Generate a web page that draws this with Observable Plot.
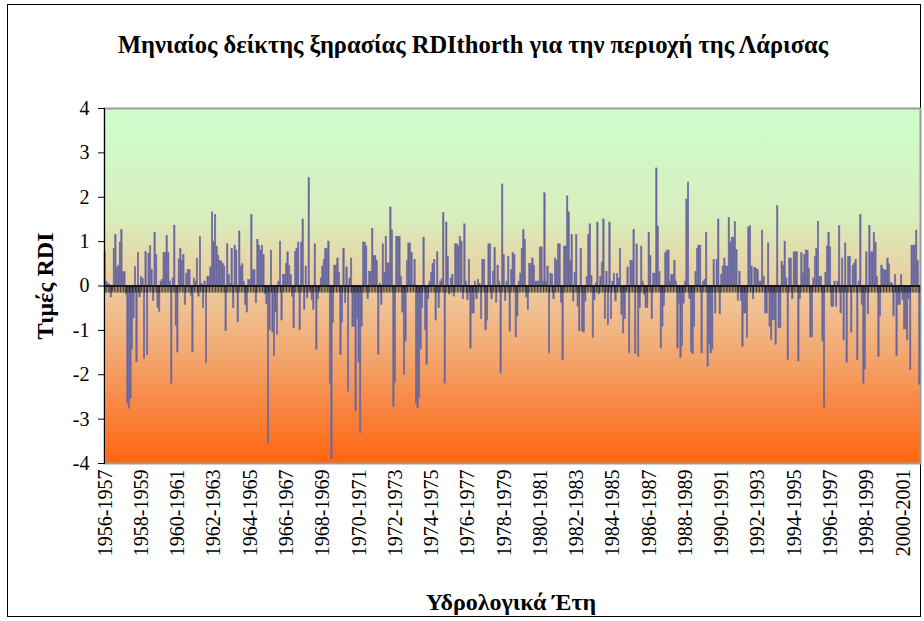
<!DOCTYPE html>
<html>
<head>
<meta charset="utf-8">
<script src="https://cdn.jsdelivr.net/npm/d3@7"></script>
<script src="https://cdn.jsdelivr.net/npm/@observablehq/plot@0.6"></script>
<style>
  html, body { margin: 0; padding: 0; background: #fff; }
  #wrap { position: relative; width: 924px; height: 621px; overflow: hidden; }
  #border { position: absolute; left: 7px; top: 4px; width: 914px; height: 613px; border: 1px solid #000; box-sizing: border-box; }
  .lbl { position: absolute; font-family: "Liberation Serif", "Times New Roman", serif; font-weight: bold; font-size: 24px; color: #000; white-space: nowrap; line-height: 1; }
  #title { left: 473px; top: 45px; transform: translate(-50%, -50%); font-size: 24.5px; }
  #ylabel { left: 45px; top: 286px; transform: translate(-50%, -50%) rotate(-90deg); }
  #xlabel { left: 511px; top: 602px; transform: translate(-50%, -50%); }
  #chart { position: absolute; left: 0; top: 0; }
</style>
</head>
<body>
<div id="wrap">
  <div id="border"></div>
  <div id="chart"></div>
  <div id="title" class="lbl">Μηνιαίος δείκτης ξηρασίας RDIthorth για την περιοχή της Λάρισας</div>
  <div id="ylabel" class="lbl">Τιμές RDI</div>
  <div id="xlabel" class="lbl">Υδρολογικά Έτη</div>
</div>
<script>
// Monthly RDI values, hydrological years (Oct–Sep), 60 months per array
const rdi1956_1961 = [0.77,0.1,0.05,0.03,-0.26,-0.1,0.83,1.15,0.4,0.45,0.98,1.26,0.3,0.32,-0.2,-2.65,-2.77,-2.55,-1.43,-0.73,0.43,-1.72,0.74,-0.26,0.2,0.16,-1.64,0.77,-1.56,0.73,0.9,0.36,-0.34,1.2,0.7,-0.5,-0.58,0.1,0.14,0.74,0.74,1.13,0.74,0.1,-2.2,0.17,1.36,-0.9,-1.5,0.6,0.83,0.56,0.7,-0.43,0.28,0.36,0.36,-0.23,-1.5,0.17];
const rdi1961_1966 = [0.1,0.62,-0.24,1.1,0.05,-0.5,0.1,-1.74,0.2,0.2,0.42,1.66,1.0,1.6,0.89,0.68,0.56,0.55,0.5,0.44,-1.02,0.94,0.25,0.05,0.83,-0.5,0.91,0.8,-0.82,1.23,0.44,0.49,0.1,-0.43,-0.6,0.13,0.13,1.6,0.35,0.36,-0.39,1.04,0.91,0.8,0.91,0.7,-0.19,-0.4,-3.55,-1.0,0.8,-1.05,-1.58,-0.6,-1.1,0.1,1.0,-0.78,0.25,0.25];
const rdi1966_1971 = [0.5,0.76,0.46,0.25,-0.24,-0.95,0.77,0.83,0.98,-1.0,0.98,1.5,-0.54,0.44,-0.28,2.43,-0.1,-0.32,-0.54,0.94,-1.44,-0.3,-0.12,0.17,0.44,0.59,0.83,0.83,1.0,-2.2,-3.9,-0.84,0.46,0.46,0.62,0.3,-1.56,-0.83,0.83,-0.39,0.42,-2.38,0.17,0.62,-0.92,-0.92,-2.83,-0.75,-1.74,-3.32,-0.92,0.98,0.98,0.89,-0.3,0.32,0.32,1.29,0.68,0.68];
const rdi1971_1976 = [0.56,-1.56,0.05,-0.43,0.94,0.3,1.11,0.51,0.51,1.77,1.25,-2.72,-2.18,1.11,1.11,1.1,0.2,-0.6,-2.0,-1.25,0.56,0.96,0.96,0.74,0.02,0.59,-2.65,-2.76,-2.53,-1.43,-0.5,1.09,-1.0,-1.78,-0.3,0.1,0.3,0.5,0.59,-0.78,0.76,-0.5,0.1,0.15,1.64,-2.2,1.43,0.66,-0.19,0.17,0.25,-0.24,0.94,0.94,0.89,1.11,1.0,-0.3,1.39,0.1];
const rdi1976_1981 = [-0.32,0.59,-1.41,-0.62,-0.62,0.1,-0.3,0.14,0.05,-0.75,0.59,0.59,-1.0,-0.78,0.94,0.94,-0.3,0.32,0.86,-0.38,0.46,0.1,-1.97,2.29,0.7,-0.34,0.1,0.66,-1.03,0.36,0.74,0.7,-1.16,-0.69,0.1,0.28,0.83,1.26,1.04,-0.26,-0.54,0.5,0.5,0.62,0.46,0.1,0.1,0.1,0.87,0.87,0.1,2.09,0.1,0.44,-1.52,0.28,0.26,-0.3,0.62,0.56];
const rdi1981_1986 = [0.94,0.94,-0.38,-1.67,0.89,0.89,2.02,1.66,0.57,1.15,-0.35,0.3,1.15,-0.47,-1.02,0.83,-1.03,-1.05,-0.35,0.2,1.15,1.39,0.23,-1.17,-0.32,0.06,1.43,-0.19,0.2,0.53,1.5,-0.75,0.32,-0.88,1.43,-0.75,0.1,0.28,-0.35,0.27,0.17,0.83,-0.65,-1.07,-0.75,-0.1,0.42,-1.52,0.56,0.56,1.26,-1.53,0.94,-1.6,-0.5,0.89,0.1,-0.2,-0.5,-0.5];
const rdi1986_1991 = [1.19,0.68,-0.75,0.28,0.28,2.65,1.34,0.32,-1.41,-0.92,-0.45,0.74,0.8,0.8,0.1,0.25,0.25,0.56,0.1,-1.41,-0.4,-1.62,-1.35,-0.4,0.1,1.95,2.33,-0.3,-1.48,-1.54,-0.92,0.32,0.83,0.91,0.91,-1.52,0.1,0.14,1.19,-1.82,-1.3,-1.52,-1.43,0.59,-0.62,0.59,1.5,-0.64,0.25,0.44,0.62,0.44,0.44,1.53,0.98,1.09,1.09,1.44,0.81,-0.34];
const rdi1991_1996 = [0.32,-0.34,-1.37,-0.62,-0.62,-1.17,1.32,1.35,0.44,-0.3,0.41,0.38,0.36,0.1,0.1,1.25,0.21,-0.62,-0.62,0.96,-0.92,-1.22,-0.77,-0.77,-1.33,1.8,-0.95,-0.95,0.55,0.46,1.0,0.17,-1.67,0.62,0.62,-0.3,0.76,0.76,0.76,-1.7,-0.3,0.74,0.28,0.7,0.8,0.8,0.38,-1.16,-1.16,0.17,0.66,0.83,1.45,0.21,0.21,-1.25,-2.76,0.3,0.89,1.2];
const rdi1996_2001 = [0.87,-0.47,-0.47,0.1,-0.47,0.1,1.35,-0.62,0.62,-1.23,0.96,-1.74,0.66,0.66,-1.05,0.46,0.51,0.59,-1.67,0.1,1.6,-0.43,-2.2,-1.88,0.76,-0.64,1.35,0.76,0.76,1.19,0.98,0.21,-1.6,-0.69,0.46,0.38,0.35,0.35,0.62,0.49,0.06,0.06,-0.69,0.25,-1.58,-0.43,-0.43,0.25,-0.32,-0.98,-0.98,-1.23,-0.3,-1.9,0.91,0.91,0.91,1.25,0.56,-2.23];

// x tick labels (every second hydrological year)
const yearTicks = ["1956-1957","1958-1959","1960-1961","1962-1963","1964-1965","1966-1967","1968-1969","1970-1971","1972-1973","1974-1975","1976-1977","1978-1979","1980-1981","1982-1983","1984-1985","1986-1987","1988-1989","1990-1991","1992-1993","1994-1995","1996-1997","1998-1999","2000-2001"];
const yTicks = [-4,-3,-2,-1,0,1,2,3,4];

const values = [].concat(rdi1956_1961, rdi1961_1966, rdi1966_1971, rdi1971_1976, rdi1976_1981, rdi1981_1986, rdi1986_1991, rdi1991_1996, rdi1996_2001);
const data = values.map((v, i) => ({i, v}));
const monthsPerTick = 24;
const tickIdx = yearTicks.map((_, k) => k * monthsPerTick);
const tickLen = 0.16; // length of category tick marks below the zero line (in RDI units)

const chart = Plot.plot({
  width: 924,
  height: 621,
  marginLeft: 104,
  marginRight: 4,
  marginTop: 108,
  marginBottom: 158,
  style: { fontFamily: "'Liberation Serif', 'Times New Roman', serif", fontSize: "20px", background: "transparent", color: "#000", overflow: "visible" },
  x: { type: "band", domain: d3.range(values.length), padding: 0.02 },
  y: { domain: [-4, 4] },
  marks: [
    Plot.frame({ fill: "url(#bgGrad)", stroke: "#9c9c9c", strokeWidth: 2 }),
    Plot.barY(data, { x: "i", y: "v", fill: "#66669c", stroke: "#6f6fa3", strokeWidth: 0.5 }),
    Plot.ruleX(data, { x: "i", y1: 0, y2: -tickLen, stroke: "#1a1a1a", strokeWidth: 0.8 }),
    Plot.ruleY([0], { stroke: "#000", strokeWidth: 1.5 }),
    Plot.frame({ anchor: "left", stroke: "#000", strokeWidth: 1 }),
    Plot.axisY({ ticks: yTicks, tickFormat: d => String(d), tickSize: 6, tickPadding: 9, label: null, fontSize: 20 }),
    Plot.axisX({ ticks: tickIdx, tickFormat: i => yearTicks[i / monthsPerTick], tickRotate: -90, tickSize: 0, tickPadding: 6, label: null, fontSize: 20 })
  ]
});

d3.select(chart).insert("defs", ":first-child").html(`
  <linearGradient id="bgGrad" x1="0" y1="0" x2="0" y2="1">
    <stop offset="0" stop-color="#ccffcc"/>
    <stop offset="0.3" stop-color="#d8eebe"/>
    <stop offset="0.45" stop-color="#e8d4a4"/>
    <stop offset="0.55" stop-color="#efc394"/>
    <stop offset="0.68" stop-color="#f3aa74"/>
    <stop offset="0.82" stop-color="#f88a48"/>
    <stop offset="1" stop-color="#ff6510"/>
  </linearGradient>`);

document.getElementById("chart").appendChild(chart);
</script>
</body>
</html>
